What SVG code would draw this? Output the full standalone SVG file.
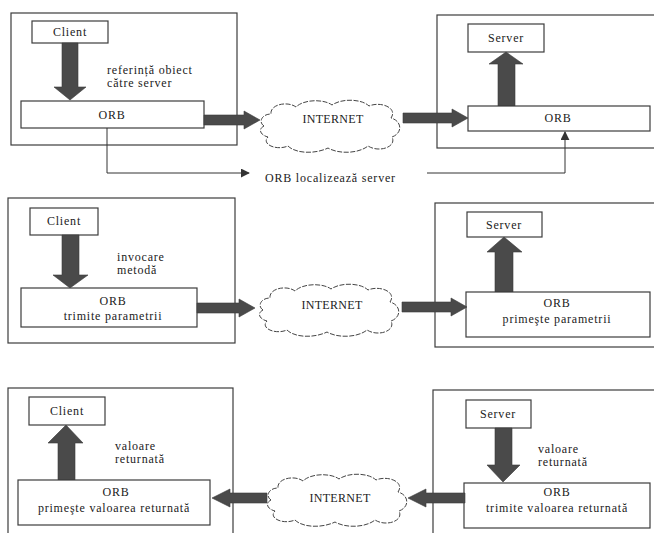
<svg xmlns="http://www.w3.org/2000/svg" xmlns:xlink="http://www.w3.org/1999/xlink" width="654" height="533" viewBox="0 0 654 533">
  <style>
    .frame { fill: none; stroke: #3c3c3c; stroke-width: 1.2; }
    .box { fill: #fff; stroke: #3c3c3c; stroke-width: 1.2; }
    .fat { fill: #4a4a4a; stroke: #3a3a3a; stroke-width: 0.6; }
    .thin { fill: none; stroke: #333; stroke-width: 1; }
    .cloud { fill: #fff; stroke: #444; stroke-width: 1; stroke-dasharray: 5 1.5; }
    text { font-family: "Liberation Serif", "Times New Roman", serif; font-size: 12px; letter-spacing: 0.8px; fill: #222; }
    .c { text-anchor: middle; }
    .net { letter-spacing: 0.3px; }
  </style>
  <defs>
    <marker id="tip" viewBox="0 0 10 10" refX="9" refY="5" markerWidth="9" markerHeight="9" orient="auto" markerUnits="userSpaceOnUse">
      <path d="M0,0 L10,5 L0,10 Z" fill="#333"/>
    </marker>
    <!-- cloud outline, local box 0..144 x 0..54 -->
    <path id="cloudShape" d="M6,28 C0,24 4,16 13,16 C12,6 30,3 38,9 C46,1 66,1 74,7 C84,0 104,1 111,8 C123,3 140,10 133,20 C144,23 145,35 134,39 C139,49 121,55 110,48 C100,56 80,56 70,50 C58,56 38,56 30,48 C18,53 3,46 10,39 C2,37 0,31 6,28 Z"/>
  </defs>

  <rect width="654" height="533" fill="#fff"/>

  <!-- Row 1: object reference -->
  <g id="client-side-1">
    <rect class="frame" x="11" y="13" width="226" height="132"/>
    <rect class="box" x="32" y="21" width="76" height="22"/>
    <text class="c" x="70" y="36">Client</text>
    <polygon class="fat" points="62,43 78,43 78,87 86,87 70,100 54,87 62,87"/>
    <rect class="box" x="21" y="101" width="183" height="27"/>
    <text class="c" x="112" y="119">ORB</text>
    <text x="107" y="74">referință obiect</text>
    <text x="107" y="87">către server</text>
  </g>
  <g id="internet-1">
    <use href="#cloudShape" class="cloud" transform="translate(258,98)"/>
    <text class="c net" x="333" y="123">INTERNET</text>
  </g>
  <g id="server-side-1">
    <rect class="frame" x="437" y="15" width="230" height="133"/>
    <rect class="box" x="468" y="24" width="76" height="28"/>
    <text class="c" x="506" y="42">Server</text>
    <polygon class="fat" points="498,106 515,106 515,64 523,64 506,52 489,64 498,64"/>
    <rect class="box" x="468" y="106" width="182" height="25"/>
    <text class="c" x="558" y="122">ORB</text>
  </g>
  <g id="connectors-1">
    <polygon class="fat" points="204,115 244,115 244,111 260,120 244,129 244,125 204,125"/>
    <polygon class="fat" points="403,113 452,113 452,109 468,118 452,127 452,123 403,123"/>
    <path class="thin" d="M107,128 V173 H249" marker-end="url(#tip)"/>
    <path class="thin" d="M427,173 H565 V132" marker-end="url(#tip)"/>
    <text x="265" y="182">ORB localizează server</text>
  </g>

  <!-- Row 2: method invocation -->
  <g id="client-side-2">
    <rect class="frame" x="8" y="198" width="227" height="145"/>
    <rect class="box" x="30" y="208" width="68" height="27"/>
    <text class="c" x="64" y="225">Client</text>
    <polygon class="fat" points="62,235 79,235 79,275 88,275 70,288 53,275 62,275"/>
    <rect class="box" x="21" y="288" width="176" height="39"/>
    <text class="c" x="113" y="305">ORB</text>
    <text class="c" x="113" y="320">trimite parametrii</text>
    <text x="117" y="261">invocare</text>
    <text x="117" y="274">metodă</text>
  </g>
  <g id="internet-2">
    <use href="#cloudShape" class="cloud" transform="translate(257,282)"/>
    <text class="c net" x="332" y="309">INTERNET</text>
  </g>
  <g id="server-side-2">
    <rect class="frame" x="435" y="203" width="230" height="144"/>
    <rect class="box" x="467" y="212" width="75" height="25"/>
    <text class="c" x="504" y="229">Server</text>
    <polygon class="fat" points="495,292 513,292 513,252 522,252 504,237 487,252 495,252"/>
    <rect class="box" x="466" y="292" width="184" height="45"/>
    <text class="c" x="557" y="307">ORB</text>
    <text class="c" x="557" y="323">primeşte parametrii</text>
  </g>
  <g id="connectors-2">
    <polygon class="fat" points="197,303 239,303 239,299 255,308 239,317 239,313 197,313"/>
    <polygon class="fat" points="402,302 451,302 451,298 467,307 451,316 451,312 402,312"/>
  </g>

  <!-- Row 3: return value -->
  <g id="client-side-3">
    <rect class="frame" x="8" y="388" width="225" height="160"/>
    <rect class="box" x="29" y="397" width="76" height="28"/>
    <text class="c" x="67" y="415">Client</text>
    <polygon class="fat" points="58,480 75,480 75,443 83,443 66,425 48,443 58,443"/>
    <rect class="box" x="18" y="480" width="192" height="45"/>
    <text class="c" x="116" y="496">ORB</text>
    <text class="c" x="114" y="512">primeşte valoarea returnată</text>
    <text x="115" y="450">valoare</text>
    <text x="115" y="463">returnată</text>
  </g>
  <g id="internet-3">
    <use href="#cloudShape" class="cloud" transform="translate(265,472)"/>
    <text class="c net" x="340" y="502">INTERNET</text>
  </g>
  <g id="server-side-3">
    <rect class="frame" x="433" y="390" width="230" height="160"/>
    <rect class="box" x="466" y="400" width="65" height="28"/>
    <text class="c" x="498" y="418">Server</text>
    <polygon class="fat" points="495,428 512,428 512,465 520,465 503,482 487,465 495,465"/>
    <rect class="box" x="464" y="483" width="186" height="45"/>
    <text class="c" x="557" y="496">ORB</text>
    <text class="c" x="557" y="512">trimite valoarea returnată</text>
    <text x="538" y="453">valoare</text>
    <text x="538" y="466">returnată</text>
  </g>
  <g id="connectors-3">
    <polygon class="fat" points="267,493 230,493 230,489 212,498 230,507 230,503 267,503"/>
    <polygon class="fat" points="465,493 426,493 426,489 408,498 426,507 426,503 465,503"/>
  </g>
</svg>
